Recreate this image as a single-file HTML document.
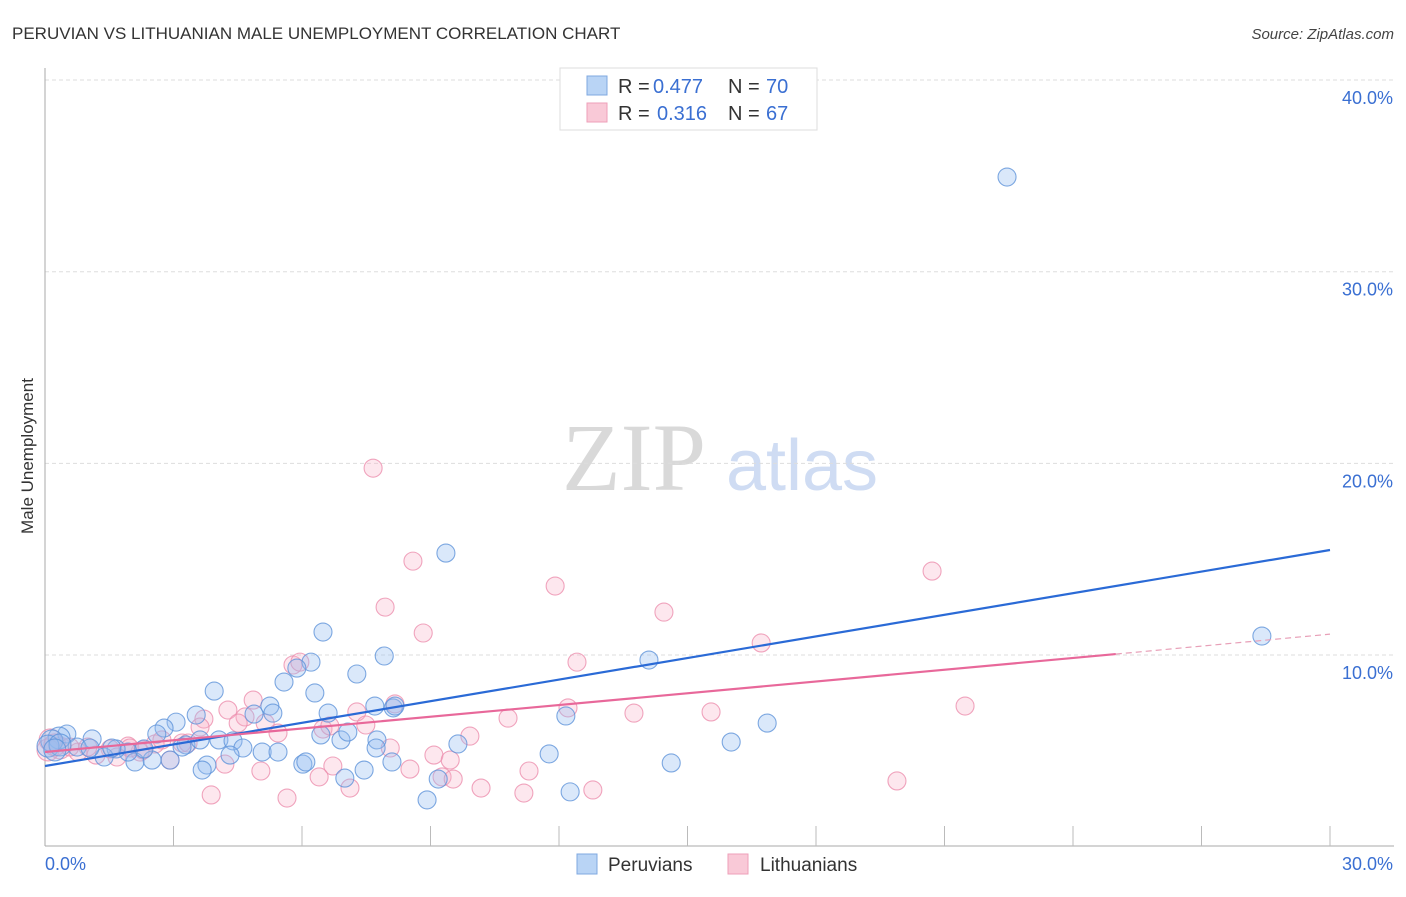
<!DOCTYPE html>
<html><head><meta charset="utf-8"><style>
body{margin:0;background:#fff;font-family:"Liberation Sans",sans-serif}
</style></head><body>
<svg id="c" width="1406" height="892" font-family="Liberation Sans, sans-serif" xmlns="http://www.w3.org/2000/svg">
<text x="12" y="39" font-size="17" fill="#333">PERUVIAN VS LITHUANIAN MALE UNEMPLOYMENT CORRELATION CHART</text>
<text x="1394" y="39" font-size="15" fill="#444" font-style="italic" text-anchor="end">Source: ZipAtlas.com</text>
<text transform="translate(33,456) rotate(-90)" font-size="17" fill="#333" text-anchor="middle">Male Unemployment</text>
<g>
<text x="634" y="490" font-size="96" fill="#d9d9d9" style="font-family:'Liberation Serif',serif" text-anchor="middle">ZIP</text>
<text x="802" y="490" font-size="72" fill="#cfdcf3" text-anchor="middle">atlas</text>
</g>
<g id="grid"></g><g id="axes"></g><g id="pts"></g><g id="lines"></g>
<g>
<rect x="560" y="68" width="257" height="62" fill="#fff" stroke="#ddd"/>
<rect x="587" y="76" width="20" height="19" fill="#b9d4f5" stroke="#7fa8e0"/>
<rect x="587" y="103" width="20" height="19" fill="#f9c9d7" stroke="#ee9fb8"/>
<text x="618" y="93" font-size="20" fill="#333">R =</text>
<text x="653" y="93" font-size="20" fill="#3a6fd2">0.477</text>
<text x="728" y="93" font-size="20" fill="#333">N =</text>
<text x="766" y="93" font-size="20" fill="#3a6fd2">70</text>
<text x="618" y="120" font-size="20" fill="#333">R =</text>
<text x="657" y="120" font-size="20" fill="#3a6fd2">0.316</text>
<text x="728" y="120" font-size="20" fill="#333">N =</text>
<text x="766" y="120" font-size="20" fill="#3a6fd2">67</text>
</g>
<g>
<rect x="577" y="854" width="20" height="20" fill="#b9d4f5" stroke="#7fa8e0"/>
<text x="608" y="871" font-size="19" fill="#333">Peruvians</text>
<rect x="728" y="854" width="20" height="20" fill="#f9c9d7" stroke="#ee9fb8"/>
<text x="760" y="871" font-size="19" fill="#333">Lithuanians</text>
</g>
</svg>
<script>
const xTicks=[0,3,6,9,12,15,18,21,24,27,30];
const yTicks=[10,20,30,40];
const yTickLabels=["10.0%","20.0%","30.0%","40.0%"];
const peruX=[22.46,28.41,9.36,6.49,6.21,5.88,5.58,3.95,6.30,7.28,7.92,4.88,5.25,5.32,3.53,3.06,2.78,2.61,4.06,4.39,4.62,5.07,5.44,3.29,4.32,3.78,3.67,2.92,2.50,2.10,1.94,1.66,1.38,1.10,0.51,0.33,0.16,0.07,0.75,1.05,1.56,2.31,6.61,6.91,7.07,6.44,7.75,7.70,8.13,8.17,7.73,8.10,7.45,7.00,6.02,9.18,8.92,9.64,12.16,11.77,12.26,14.10,14.62,16.02,16.86,6.09,3.62,3.20,0.35,0.23];
const peruY=[34.94,10.99,15.32,11.2,9.63,9.32,8.59,8.12,8.02,9.01,9.95,6.92,7.34,6.97,6.87,6.50,6.19,5.88,5.57,5.52,5.15,4.94,4.94,5.31,4.78,4.26,4.0,4.52,4.52,4.42,4.94,5.10,4.68,5.62,5.88,5.67,5.52,5.25,5.20,5.15,5.15,5.10,6.97,5.57,5.98,5.83,5.57,7.34,7.24,7.34,5.15,4.42,4.0,3.58,4.31,3.53,2.44,5.36,6.82,4.84,2.86,9.74,4.37,5.46,6.45,4.42,5.57,5.20,5.31,5.05];
const lithX=[7.66,8.59,7.94,11.91,20.71,14.45,8.83,12.42,16.72,5.79,5.95,4.86,4.27,3.71,4.67,4.51,5.44,5.14,7.28,8.17,7.49,6.49,6.65,13.75,12.21,15.55,21.48,10.81,9.92,8.06,9.08,9.46,9.27,9.53,8.52,11.30,6.72,6.40,5.04,4.20,2.92,3.20,7.12,3.88,5.65,10.18,11.18,12.79,19.89,3.62,2.57,2.22,1.94,1.52,1.19,0.77,0.35,0.12,0.07,0.23,1.00,1.98,2.73,3.34,2.29,0.58,1.68];
const lithY=[19.75,14.90,12.50,13.60,14.38,12.24,11.15,9.63,10.63,9.48,9.63,7.65,7.13,6.66,6.77,6.45,5.93,6.45,7.03,7.45,6.35,6.14,6.30,6.97,7.24,7.03,7.34,6.71,5.77,5.15,4.78,4.52,3.64,3.53,4.05,3.95,4.21,3.64,3.95,4.31,4.52,5.41,3.06,2.70,2.54,3.06,2.80,2.96,3.43,6.24,5.36,4.94,5.25,5.10,4.78,4.94,5.15,5.57,5.05,5.31,5.20,5.15,5.57,5.41,5.05,5.20,4.68];
const peruLine=[4.21,15.48];
const lithLine=[4.94,10.05,11.09];
const X=v=>45+v*(1285/30), Y=v=>846.7-v*(575/30);
const NS="http://www.w3.org/2000/svg";
function mk(tag,at,parent){const e=document.createElementNS(NS,tag);for(const k in at)e.setAttribute(k,at[k]);parent.appendChild(e);return e;}
const grid=document.getElementById('grid'),axes=document.getElementById('axes'),pts=document.getElementById('pts'),lines=document.getElementById('lines');
yTicks.forEach((t,i)=>{
 const l=mk('line',{x1:45,x2:1394,y1:Y(t),y2:Y(t),stroke:'#ddd','stroke-dasharray':'4,3'},grid);
 
 
 const tx=mk('text',{x:1393,y:Y(t)+24,'font-size':18,fill:'#3a6fd2','text-anchor':'end'},axes);
 tx.textContent=yTickLabels[i];
 
 
});
const ya=mk('line',{x1:45,x2:45,y1:68,y2:846,stroke:'#aaa'},axes);


const xa=mk('line',{x1:45,x2:1394,y1:846,y2:846,stroke:'#aaa'},axes);


xTicks.forEach(t=>{if(t===0)return;
 const l=mk('line',{x1:X(t),x2:X(t),y1:826,y2:846,stroke:'#bbb'},axes);
 
 
});
const x0=mk('text',{x:45,y:870,'font-size':18,fill:'#3a6fd2'},axes);x0.textContent='0.0%';


const x1=mk('text',{x:1393,y:870,'font-size':18,fill:'#3a6fd2','text-anchor':'end'},axes);x1.textContent='30.0%';


function dots(xs,ys,fill,stroke,name){xs.forEach((v,i)=>{
 const r=v<0.5?11:9;
 const c=mk('circle',{cx:X(v),cy:Y(ys[i]),r:r,fill:fill,stroke:stroke,'stroke-width':1.1,'stroke-opacity':0.8},pts);
 
 
});}
dots(lithX,lithY,'rgba(247,175,200,0.3)','#ec8fae','lithuanian-point');
dots(peruX,peruY,'rgba(150,190,240,0.35)','#5f93da','peruvian-point');
const bl=mk('line',{x1:X(0),y1:Y(peruLine[0]),x2:X(30),y2:Y(peruLine[1]),stroke:'#2a6ad6','stroke-width':2.2},lines);


const pl=mk('line',{x1:X(0),y1:Y(lithLine[0]),x2:X(25),y2:Y(lithLine[1]),stroke:'#e8689a','stroke-width':2.2},lines);


const pd=mk('line',{x1:X(25),y1:Y(lithLine[1]),x2:X(30),y2:Y(lithLine[2]),stroke:'#e8a0b8','stroke-width':1.2,'stroke-dasharray':'6,4'},lines);


</script>
</body></html>
